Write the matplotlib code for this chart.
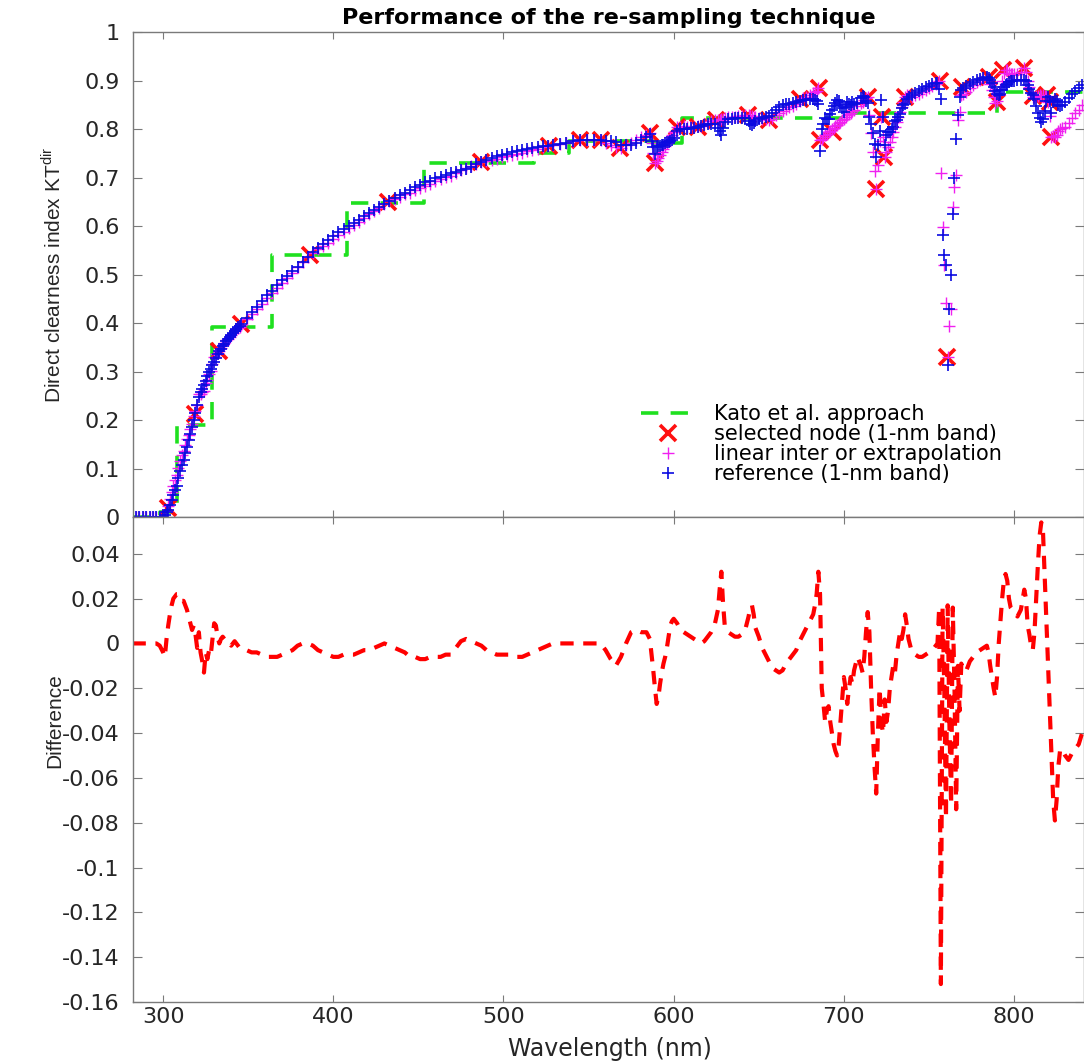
import numpy as np
import matplotlib.pyplot as plt

plt.rcParams['font.family'] = ['DejaVu Sans']
plt.rcParams['mathtext.fontset'] = 'custom'
plt.rcParams['mathtext.rm'] = 'Liberation Sans'

# ------------------------------------------------------------------
#  Data
# ------------------------------------------------------------------

# 1-nm reference band values and the plotted difference (interp - ref)
wavelength = [
    282, 284, 286, 288, 290, 292, 294, 296, 298, 300,
    301, 302, 303, 304, 305, 306, 307, 308, 309, 310,
    311, 312, 313, 314, 315, 316, 317, 318, 319, 320,
    321, 322, 323, 324, 325, 326, 327, 328, 329, 330,
    331, 332, 333, 334, 335, 336, 337, 338, 339, 340,
    341, 342, 343, 344, 345, 346, 349, 352, 355, 358,
    361, 364, 367, 370, 373, 376, 379, 382, 385, 388,
    391, 394, 397, 400, 403, 406, 409, 412, 415, 418,
    421, 424, 427, 430, 433, 436, 439, 442, 445, 448,
    451, 454, 457, 460, 463, 466, 469, 472, 475, 478,
    481, 484, 487, 490, 493, 496, 499, 502, 505, 508,
    511, 514, 517, 520, 523, 526, 529, 533, 537, 541,
    545, 549, 553, 557, 560, 563, 566, 569, 572, 575,
    578, 581, 584, 586, 587, 588, 589, 590, 591, 592,
    593, 594, 595, 596, 597, 598, 599, 600, 602, 604,
    606, 608, 610, 612, 614, 616, 618, 620, 622, 624,
    626, 627, 628, 629, 630, 632, 634, 636, 638, 640,
    642, 644, 645, 646, 647, 648, 650, 652, 654, 656,
    658, 660, 662, 664, 666, 668, 670, 672, 674, 676,
    678, 680, 682, 683, 684, 685, 686, 687, 688, 689,
    690, 691, 692, 693, 694, 695, 696, 697, 698, 699,
    700, 701, 702, 703, 704, 705, 706, 708, 710, 711,
    712, 713, 714, 715, 716, 717, 718, 719, 720, 721,
    722, 723, 724, 725, 726, 727, 728, 729, 730, 731,
    732, 733, 734, 735, 736, 737, 738, 740, 742, 744,
    746, 748, 750, 752, 754, 755, 756, 757, 758, 759,
    760, 761, 762, 763, 764, 765, 766, 767, 768, 769,
    770, 772, 774, 776, 778, 780, 782, 784, 785, 786,
    787, 788, 789, 790, 791, 792, 793, 794, 795, 796,
    797, 798, 799, 800, 802, 804, 806, 807, 808, 809,
    810, 811, 812, 813, 814, 815, 816, 817, 818, 819,
    820, 821, 822, 823, 824, 825, 826, 827, 828, 830,
    832, 834, 836, 838, 840,
]

kt_reference = [
    0.000, 0.000, 0.000, 0.000, 0.000, 0.000, 0.000, 0.000, 0.000, 0.001,
    0.004, 0.010, 0.015, 0.025, 0.035, 0.045, 0.055, 0.065, 0.080, 0.095,
    0.108, 0.118, 0.132, 0.145, 0.158, 0.172, 0.186, 0.200, 0.215, 0.232,
    0.248, 0.257, 0.265, 0.272, 0.281, 0.290, 0.298, 0.306, 0.313, 0.320,
    0.328, 0.336, 0.343, 0.347, 0.352, 0.357, 0.362, 0.367, 0.372, 0.376,
    0.380, 0.384, 0.388, 0.391, 0.394, 0.397, 0.411, 0.422, 0.433, 0.445,
    0.457, 0.467, 0.478, 0.488, 0.497, 0.507, 0.516, 0.526, 0.536, 0.546,
    0.555, 0.563, 0.571, 0.579, 0.587, 0.593, 0.600, 0.607, 0.613, 0.620,
    0.627, 0.633, 0.639, 0.645, 0.652, 0.658, 0.663, 0.669, 0.675, 0.680,
    0.685, 0.690, 0.693, 0.698, 0.702, 0.706, 0.709, 0.712, 0.715, 0.718,
    0.722, 0.727, 0.732, 0.737, 0.740, 0.744, 0.747, 0.749, 0.752, 0.755,
    0.757, 0.759, 0.761, 0.762, 0.764, 0.765, 0.766, 0.769, 0.772, 0.775,
    0.777, 0.778, 0.778, 0.777, 0.775, 0.775, 0.773, 0.767, 0.766, 0.767,
    0.771, 0.778, 0.783, 0.790, 0.776, 0.762, 0.749, 0.762, 0.765, 0.765,
    0.766, 0.768, 0.771, 0.773, 0.774, 0.775, 0.778, 0.782, 0.796, 0.799,
    0.801, 0.801, 0.802, 0.803, 0.805, 0.807, 0.809, 0.810, 0.811, 0.811,
    0.803, 0.795, 0.788, 0.803, 0.815, 0.820, 0.821, 0.822, 0.823, 0.823,
    0.822, 0.816, 0.811, 0.809, 0.812, 0.817, 0.820, 0.823, 0.825, 0.826,
    0.834, 0.840, 0.845, 0.849, 0.851, 0.852, 0.853, 0.855, 0.857, 0.859,
    0.860, 0.861, 0.861, 0.860, 0.857, 0.852, 0.755, 0.800, 0.810, 0.822,
    0.820, 0.821, 0.831, 0.839, 0.847, 0.854, 0.859, 0.857, 0.850, 0.843,
    0.836, 0.845, 0.855, 0.851, 0.849, 0.855, 0.852, 0.853, 0.863, 0.869,
    0.865, 0.858, 0.853, 0.824, 0.811, 0.792, 0.769, 0.743, 0.766, 0.795,
    0.860, 0.824, 0.768, 0.788, 0.793, 0.794, 0.799, 0.804, 0.817, 0.819,
    0.824, 0.830, 0.843, 0.849, 0.852, 0.862, 0.866, 0.871, 0.875, 0.879,
    0.883, 0.886, 0.889, 0.892, 0.894, 0.895, 0.882, 0.862, 0.581, 0.540,
    0.520, 0.313, 0.429, 0.500, 0.624, 0.700, 0.779, 0.829, 0.865, 0.880,
    0.884, 0.889, 0.892, 0.896, 0.901, 0.904, 0.906, 0.907, 0.906, 0.902,
    0.895, 0.886, 0.878, 0.872, 0.870, 0.873, 0.880, 0.887, 0.890, 0.893,
    0.896, 0.898, 0.899, 0.900, 0.901, 0.902, 0.901, 0.898, 0.890, 0.882,
    0.875, 0.870, 0.862, 0.848, 0.834, 0.822, 0.815, 0.820, 0.838, 0.858,
    0.866, 0.857, 0.834, 0.855, 0.862, 0.858, 0.850, 0.848, 0.849, 0.855,
    0.864, 0.872, 0.879, 0.885, 0.890,
]

kt_difference = [
    0.000, 0.000, 0.000, 0.000, 0.000, 0.000, 0.000, 0.000, -0.001, -0.004,
    -0.006, 0.002, 0.008, 0.013, 0.017, 0.020, 0.021, 0.022, 0.022, 0.021,
    0.019, 0.019, 0.017, 0.015, 0.012, 0.009, 0.006, 0.008, 0.004, -0.002,
    0.005, -0.004, -0.008, -0.013, -0.004, -0.007, -0.003, -0.005, 0.002, 0.009,
    0.008, 0.003, 0.000, 0.002, 0.003, 0.002, 0.002, 0.001, 0.000, -0.001,
    0.000, 0.001, 0.000, -0.001, -0.002, -0.002, -0.003, -0.004, -0.004, -0.005,
    -0.006, -0.006, -0.006, -0.005, -0.004, -0.003, -0.001, 0.000, 0.000, -0.001,
    -0.003, -0.004, -0.005, -0.006, -0.006, -0.005, -0.005, -0.005, -0.004, -0.003,
    -0.003, -0.002, -0.001, 0.000, -0.001, -0.002, -0.003, -0.004, -0.006, -0.006,
    -0.007, -0.007, -0.006, -0.006, -0.006, -0.005, -0.005, -0.002, 0.001, 0.002,
    0.001, 0.000, -0.001, -0.003, -0.004, -0.005, -0.005, -0.005, -0.005, -0.006,
    -0.006, -0.005, -0.004, -0.003, -0.002, -0.001, 0.000, 0.000, 0.000, 0.000,
    0.000, 0.000, 0.000, 0.000, -0.003, -0.007, -0.010, -0.006, 0.000, 0.005,
    0.006, 0.005, 0.005, 0.002, -0.005, -0.012, -0.020, -0.027, -0.024, -0.018,
    -0.013, -0.009, -0.006, -0.002, 0.003, 0.008, 0.010, 0.011, 0.009, 0.006,
    0.005, 0.004, 0.003, 0.002, 0.001, 0.000, 0.001, 0.003, 0.005, 0.008,
    0.015, 0.024, 0.032, 0.018, 0.008, 0.005, 0.004, 0.003, 0.003, 0.004,
    0.006, 0.012, 0.016, 0.017, 0.013, 0.007, 0.003, -0.002, -0.005, -0.008,
    -0.011, -0.012, -0.013, -0.012, -0.009, -0.007, -0.005, -0.003, 0.001, 0.004,
    0.007, 0.010, 0.013, 0.017, 0.022, 0.032, 0.022, -0.020, -0.027, -0.035,
    -0.030, -0.028, -0.035, -0.040, -0.045, -0.048, -0.050, -0.045, -0.035, -0.025,
    -0.015, -0.020, -0.027, -0.020, -0.015, -0.018, -0.012, -0.006, -0.010, -0.013,
    -0.006, 0.005, 0.014, 0.005, -0.020, -0.040, -0.055, -0.067, -0.040, -0.020,
    -0.035, -0.040, -0.025, -0.035, -0.030, -0.020, -0.015, -0.010, -0.013, -0.005,
    0.000, 0.005, 0.002, 0.006, 0.013, 0.008, 0.002, -0.004, -0.005, -0.006,
    -0.006, -0.005, -0.004, -0.003, -0.001, 0.000, 0.016, -0.152, 0.016, -0.020,
    -0.078, 0.017, -0.035, -0.072, 0.016, -0.020, -0.074, -0.010, -0.030, -0.009,
    -0.012, -0.012, -0.008, -0.006, -0.004, -0.003, -0.002, -0.001, -0.004, -0.010,
    -0.015, -0.020, -0.024, -0.015, 0.000, 0.010, 0.020, 0.028, 0.031, 0.028,
    0.020, 0.016, 0.015, 0.014, 0.012, 0.015, 0.024, 0.020, 0.008, 0.004,
    -0.001, -0.003, 0.005, 0.020, 0.035, 0.048, 0.054, 0.050, 0.030, 0.010,
    -0.010, -0.030, -0.050, -0.070, -0.079, -0.070, -0.055, -0.048, -0.047, -0.050,
    -0.052, -0.049, -0.047, -0.045, -0.040,
]

# selected nodes (red crosses)
node_wavelength = [303, 318.7, 333, 346, 386.2, 432, 486.7, 527, 545, 557.4,
                   568.5, 586, 589, 601.8, 614, 625, 643.7, 656, 674, 685.6,
                   686.2, 693.8, 714.4, 719, 722.3, 723.6, 736, 756.5, 760.5,
                   769.3, 785, 790.2, 793.7, 805.9, 811.3, 819.2, 821, 822]
node_kt = [0.018, 0.213, 0.343, 0.397, 0.540, 0.650, 0.731, 0.765, 0.777, 0.777,
           0.760, 0.792, 0.729, 0.805, 0.805, 0.819, 0.828, 0.818, 0.862, 0.884,
           0.777, 0.794, 0.867, 0.676, 0.825, 0.743, 0.865, 0.898, 0.330,
           0.887, 0.908, 0.856, 0.922, 0.925, 0.868, 0.870, 0.856, 0.784]

# Kato et al. band edges and band values
kato_edges = [282, 298.3, 307.9, 328.8, 363.8, 407.8, 453.2, 517.7, 538.7,
              587.9, 605, 700, 790, 841.1]
kato_kt = [0.0, 0.01, 0.19, 0.392, 0.541, 0.647, 0.729, 0.75, 0.775,
           0.772, 0.822, 0.833, 0.877]

x_ticks = [300, 400, 500, 600, 700, 800]
top_ticks = [0, 0.1, 0.2, 0.3, 0.4, 0.5, 0.6, 0.7, 0.8, 0.9, 1]
top_labels = ['0', '0.1', '0.2', '0.3', '0.4', '0.5', '0.6', '0.7', '0.8', '0.9', '1']
bottom_ticks = [-0.16, -0.14, -0.12, -0.1, -0.08, -0.06, -0.04, -0.02, 0, 0.02, 0.04]
bottom_labels = ['-0.16', '-0.14', '-0.12', '-0.1', '-0.08', '-0.06', '-0.04',
                 '-0.02', '0', '0.02', '0.04']

wl = np.array(wavelength)
ref = np.array(kt_reference)
diff = np.array(kt_difference)
lin = ref + diff   # the lower panel shows (interpolation - reference)

# ------------------------------------------------------------------
#  Plot
# ------------------------------------------------------------------
fig = plt.figure(figsize=(10.84, 10.63), dpi=100)
ax1 = fig.add_axes([0.1227, 0.5136, 0.8773, 0.4563])
ax2 = fig.add_axes([0.1227, 0.0574, 0.8773, 0.4562])

spine_col = '#7a7a7a'
text_col = '#262626'

ax1.plot(kato_edges, kato_kt + [kato_kt[-1]], drawstyle='steps-post',
         color='#1fe01f', lw=2.6, linestyle=(0, (4.8, 3.4)),
         label='Kato et al. approach')
ax1.plot(node_wavelength, node_kt, 'x', color='#ff1010', ms=12, mew=2.6,
         label='selected node (1-nm band)')
ax1.plot(wl, lin, '+', color='#f020f0', ms=8, mew=1.0,
         label='linear inter or extrapolation')
ax1.plot(wl, ref, '+', color='#0a0ae0', ms=8.5, mew=1.2,
         label='reference (1-nm band)')

ax2.plot(wl, diff, color='#ff0000', lw=3.0, linestyle=(0, (3.2, 2.3)))

for ax in (ax1, ax2):
    ax.set_xlim(282.3, 841.1)
    ax.set_xticks(x_ticks)
    ax.tick_params(direction='in', top=True, right=True, color=spine_col,
                   width=0.8, labelcolor=text_col, labelsize=16)
    ax.tick_params(axis='y', length=6.5, pad=9.5)
    ax.tick_params(axis='x', length=5, pad=3.5)
    for s in ax.spines.values():
        s.set_color(spine_col)
        s.set_linewidth(1.0)

ax1.set_ylim(0, 1)
ax1.set_yticks(top_ticks)
ax1.set_yticklabels(top_labels)
ax1.tick_params(labelbottom=False)

ax2.set_ylim(-0.16, 0.0564)
ax2.set_yticks(bottom_ticks)
ax2.set_yticklabels(bottom_labels)
ax2.set_xticklabels([str(t) for t in x_ticks])

ax1.set_title('Performance of the re-sampling technique', fontsize=16,
              fontweight='bold', pad=5.5, color='black')
ax1.set_ylabel('Direct clearness index KT$^{\\rm dir}$', fontsize=15,
               family='Liberation Sans', color=text_col)
ax1.yaxis.set_label_coords(-0.072, 0.5)
ax2.set_ylabel('Difference', fontsize=15, family='Liberation Sans',
               color=text_col)
ax2.yaxis.set_label_coords(-0.072, 0.581)
ax2.set_xlabel('Wavelength (nm)', fontsize=17, color=text_col, va='top')
ax2.xaxis.set_label_coords(0.5016, -0.072)

ax1.legend(loc='upper left', bbox_to_anchor=(0.534, 0.233), frameon=False,
           fontsize=15, handlelength=2.6, handletextpad=0.9, labelspacing=0.0,
           borderpad=0, borderaxespad=0, numpoints=1)

fig.savefig('out.png', dpi=100)
